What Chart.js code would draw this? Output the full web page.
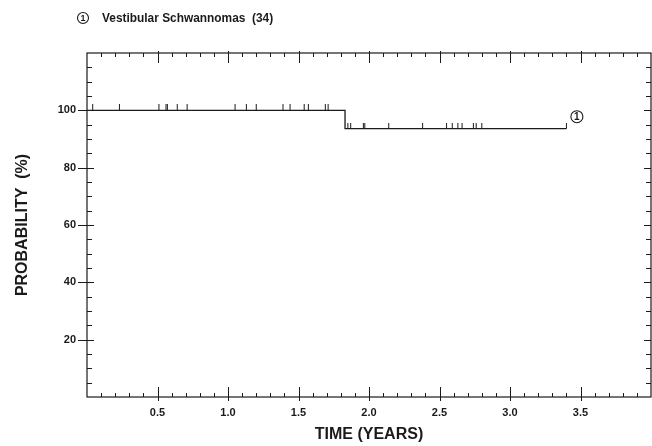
<!DOCTYPE html>
<html>
<head>
<meta charset="utf-8">
<script src="https://cdn.jsdelivr.net/npm/chart.js@4/dist/chart.umd.min.js"></script>
<style>
  html, body { margin: 0; padding: 0; background: #fff; }
  #wrap { width: 652px; height: 446px; position: relative; }
</style>
</head>
<body>
<div id="wrap"><canvas id="c" width="652" height="446"></canvas></div>
<script>
// ---- data ----
const seriesName = 'Vestibular Schwannomas';
const seriesCount = 34;
const seriesNumber = '1';
const kmTimes = [0, 1.83, 3.40];          // years
const kmValues = [100, 93.6, 93.6];       // probability (%)
const censorTimes = [0.04, 0.23, 0.51, 0.56, 0.57, 0.64, 0.71, 1.05, 1.13, 1.20, 1.39, 1.44, 1.54, 1.57, 1.69, 1.71,
                     1.85, 1.87, 1.96, 1.97, 2.14, 2.38, 2.55, 2.59, 2.63, 2.66, 2.74, 2.76, 2.80, 3.40];
const censorValues = [100, 100, 100, 100, 100, 100, 100, 100, 100, 100, 100, 100, 100, 100, 100, 100,
                      93.6, 93.6, 93.6, 93.6, 93.6, 93.6, 93.6, 93.6, 93.6, 93.6, 93.6, 93.6, 93.6, 93.6];
const xTickLabels = ['0.5', '1.0', '1.5', '2.0', '2.5', '3.0', '3.5'];
const yTickLabels = ['20', '40', '60', '80', '100'];
const xTitle = 'TIME (YEARS)';
const yTitle = 'PROBABILITY  (%)';

const INK = '#1a1a1a';
const FONT = "'Liberation Sans', Arial, Helvetica, sans-serif";

// censor mark: short vertical tick rising from the curve
const censorMark = document.createElement('canvas');
censorMark.width = 3; censorMark.height = 12;
(function () {
  const g = censorMark.getContext('2d');
  g.strokeStyle = INK; g.lineWidth = 1;
  g.beginPath(); g.moveTo(1.5, 0); g.lineTo(1.5, 6); g.stroke();
})();

function circledOne(ctx, cx, cy, r, fontPx) {
  ctx.save();
  ctx.strokeStyle = INK; ctx.lineWidth = 1.1;
  ctx.beginPath(); ctx.arc(cx, cy, r, 0, Math.PI * 2); ctx.stroke();
  ctx.fillStyle = INK;
  ctx.font = 'bold ' + fontPx + 'px ' + FONT;
  ctx.textAlign = 'center'; ctx.textBaseline = 'middle';
  ctx.fillText(seriesNumber, cx, cy + 0.5);
  ctx.restore();
}

const framePlugin = {
  id: 'frameTicks',
  afterDraw(chart) {
    const {ctx, chartArea: a, scales: {x, y}} = chart;
    ctx.save();
    ctx.strokeStyle = INK;
    ctx.lineWidth = 1.2;
    ctx.strokeRect(a.left, a.top, a.right - a.left, a.bottom - a.top);
    ctx.lineWidth = 1;
    ctx.beginPath();
    // x ticks every 0.1, major every 0.5
    for (let i = 1; i < 40; i++) {
      const v = i / 10;
      const px = Math.round(x.getPixelForValue(v)) + 0.5;
      const major = i % 5 === 0;
      const up = major ? 10 : 4;
      ctx.moveTo(px, a.bottom + (major ? 4 : 0)); ctx.lineTo(px, a.bottom - up);
      ctx.moveTo(px, a.top - (major ? 2 : 0)); ctx.lineTo(px, a.top + up);
    }
    // y ticks every 5, major every 20
    for (let v = 5; v < 120; v += 5) {
      const py = Math.round(y.getPixelForValue(v)) + 0.5;
      const major = v % 20 === 0;
      ctx.moveTo(a.left - (major ? 9 : 0), py); ctx.lineTo(a.left + (major ? 7 : 5), py);
      ctx.moveTo(a.right, py); ctx.lineTo(a.right - (major ? 7 : 5), py);
    }
    ctx.stroke();

    // legend at top
    circledOne(ctx, a.left - 4, 18, 5.5, 9);
    ctx.fillStyle = INK;
    ctx.font = 'bold 11.9px ' + FONT;
    ctx.textAlign = 'left'; ctx.textBaseline = 'middle';
    ctx.fillText(seriesName + '  (' + seriesCount + ')', a.left + 15, 18.5);

    // curve end label
    const meta = chart.getDatasetMeta(0);
    const last = meta.data[meta.data.length - 1];
    circledOne(ctx, last.x + 10.5, last.y - 12, 6, 10);
    ctx.restore();
  }
};

new Chart(document.getElementById('c'), {
  type: 'line',
  data: {
    datasets: [
      {
        data: kmTimes.map((t, i) => ({x: t, y: kmValues[i]})),
        stepped: true,
        borderColor: INK,
        borderWidth: 1.3,
        pointRadius: 0,
        fill: false
      },
      {
        type: 'scatter',
        data: censorTimes.map((t, i) => ({x: t, y: censorValues[i]})),
        showLine: false,
        pointStyle: censorMark,
        pointRadius: 6
      }
    ]
  },
  options: {
    responsive: false,
    animation: false,
    events: [],
    layout: { autoPadding: false, padding: { top: 53, right: 1, left: 0, bottom: 0 } },
    plugins: { legend: { display: false }, tooltip: { enabled: false }, title: { display: false } },
    scales: {
      x: {
        type: 'linear', min: 0, max: 4,
        grid: { display: false, drawTicks: false, tickLength: 0 },
        border: { display: false },
        afterFit(s) { s.height = 49; s.paddingLeft = 0; s.paddingRight = 0; },
        ticks: {
          stepSize: 0.5,
          padding: 9,
          color: INK,
          font: { family: FONT, size: 11, weight: 'bold' },
          maxRotation: 0,
          callback(v) { const i = Math.round(v / 0.5) - 1; return xTickLabels[i] !== undefined && Math.abs(v - (i + 1) * 0.5) < 1e-9 ? xTickLabels[i] : ''; }
        },
        title: {
          display: true, text: xTitle, color: INK,
          font: { family: FONT, size: 16, weight: 'bold' },
          padding: { top: 4, bottom: 2 }
        }
      },
      y: {
        type: 'linear', min: 0, max: 120,
        grid: { display: false, drawTicks: false, tickLength: 0 },
        border: { display: false },
        afterFit(s) { s.width = 87; s.paddingTop = 0; s.paddingBottom = 0; },
        ticks: {
          stepSize: 20,
          padding: 11,
          color: INK,
          font: { family: FONT, size: 11, weight: 'bold' },
          callback(v) { const i = Math.round(v / 20) - 1; return yTickLabels[i] !== undefined ? yTickLabels[i] : ''; }
        },
        title: {
          display: true, text: yTitle, color: INK,
          font: { family: FONT, size: 16, weight: 'bold' },
          padding: { top: 13, bottom: 0 }
        }
      }
    }
  },
  plugins: [framePlugin]
});
</script>
</body>
</html>
